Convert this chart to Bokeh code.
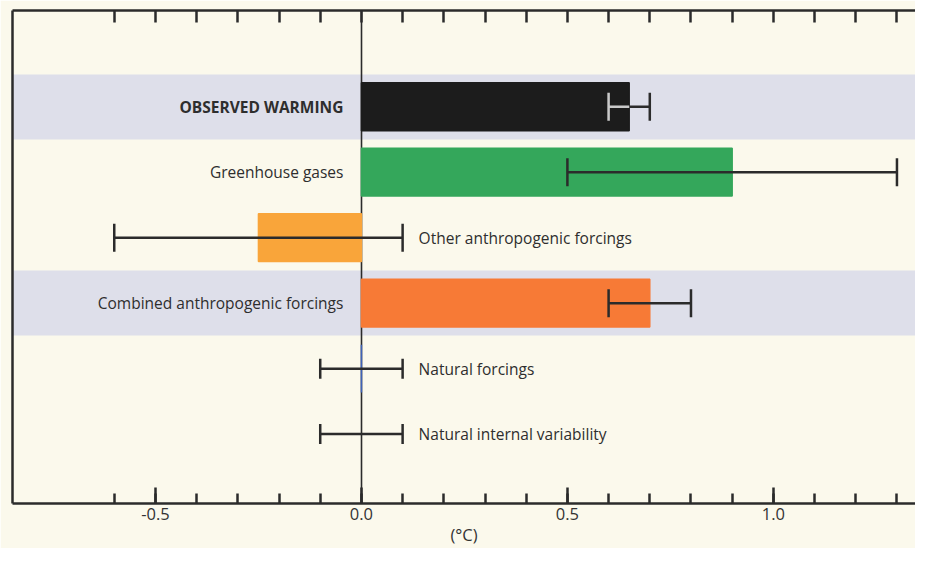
from bokeh.plotting import figure
from bokeh.models import (ColumnDataSource, Range1d, LinearAxis, FixedTicker,
                          Whisker, TeeHead)
from bokeh.core.properties import value
from bokeh.embed import file_html
from bokeh.resources import INLINE

# ---- data ----
categories = ["OBSERVED WARMING", "Greenhouse gases", "Other anthropogenic forcings",
              "Combined anthropogenic forcings", "Natural forcings",
              "Natural internal variability"]
values = [0.65, 0.9, -0.25, 0.7, 0.0, 0.0]
err_lo = [0.6, 0.5, -0.6, 0.6, -0.1, -0.1]
err_hi = [0.7, 1.3, 0.1, 0.8, 0.1, 0.1]
bar_colors = ["#1c1c1c", "#34a75b", "#f9a53a", "#f77a36", "#3f62b8", "rgba(0,0,0,0)"]
label_side = ["left", "left", "right", "left", "right", "right"]
shaded_rows = [0, 3]
major_ticks = [-0.5, 0.0, 0.5, 1.0]
tick_labels = ["-0.5", "0.0", "0.5", "1.0"]
minor_ticks = [-0.6, -0.5, -0.4, -0.3, -0.2, -0.1, 0.0, 0.1, 0.2, 0.3, 0.4, 0.5,
               0.6, 0.7, 0.8, 0.9, 1.0, 1.1, 1.2, 1.3]
x_label = "(°C)"

BG = "#fbf9ec"
BAND = "#dedfea"
INK = "#2b2b2b"
FONT = "Open Sans"

rows = list(range(len(categories)))

p = figure(width=915, height=548, output_backend="svg", toolbar_location=None,
           x_range=Range1d(-0.847, 1.345), y_range=Range1d(6.06, -1.47),
           x_axis_location=None, y_axis_location=None,
           min_border_left=12, min_border_right=0, min_border_top=10,
           min_border_bottom=41)
p.background_fill_color = BG
p.border_fill_color = BG
p.outline_line_color = None
p.xgrid.visible = False
p.ygrid.visible = False

# shaded bands
p.hstrip(y0=[r - 0.5 for r in shaded_rows], y1=[r + 0.5 for r in shaded_rows],
         fill_color=BAND, line_color=None)

# zero line
p.vspan(x=[0.0], line_color=INK, line_width=1.6)

# bars
bsrc = ColumnDataSource(dict(y=rows, v=values, c=bar_colors))
p.hbar(y="y", left=0, right="v", height=0.73, fill_color="c", line_color="c",
       line_width=1.5, source=bsrc)

# error bars
def add_whisker(idx, size, color=INK, lo=None, hi=None, upper=True):
    src = ColumnDataSource(dict(
        y=[rows[i] for i in idx],
        lo=[(lo if lo is not None else err_lo)[i] for i in idx],
        hi=[(hi if hi is not None else err_hi)[i] for i in idx]))
    w = Whisker(source=src, base="y", lower="lo", upper="hi", dimension="width",
                level="annotation",
                line_color=color, line_width=2.5,
                lower_head=TeeHead(size=size, line_color=color, line_width=2.5),
                upper_head=TeeHead(size=size, line_color=INK, line_width=2.5) if upper else None)
    p.add_layout(w)

add_whisker([0, 1, 2, 3], 28)
add_whisker([4, 5], 20)
add_whisker([0], 28, color="#c9c9c9", hi=values, upper=False)

# labels
for side in ("left", "right"):
    for bold in (True, False):
        idx = [i for i in rows if label_side[i] == side and (i == 0) == bold]
        if not idx:
            continue
        src = ColumnDataSource(dict(
            x=[0.0 if side == "left" else err_hi[i] for i in idx],
            y=[rows[i] for i in idx],
            t=[categories[i] for i in idx]))
        p.text(x="x", y="y", text="t", source=src,
               x_offset=-18 if side == "left" else 16,
               text_align="right" if side == "left" else "left",
               text_baseline="middle", text_color="#2e2e2e",
               text_font=value(FONT), text_font_size="15.5px",
               text_font_style="bold" if bold else "normal")

# axes
bottom = LinearAxis(ticker=FixedTicker(ticks=major_ticks, minor_ticks=minor_ticks),
                    major_tick_in=16, major_tick_out=0, minor_tick_in=10, minor_tick_out=0,
                    axis_line_color=INK, axis_line_width=2.5,
                    major_tick_line_color=INK, major_tick_line_width=2.5,
                    minor_tick_line_color=INK, minor_tick_line_width=2.5,
                    major_label_overrides={t: l for t, l in zip(major_ticks, tick_labels)},
                    major_label_text_font=FONT, major_label_text_font_size="16.5px",
                    major_label_text_color="#333333", major_label_standoff=4,
                    axis_label=x_label, axis_label_text_font=FONT,
                    axis_label_text_font_size="16.5px", axis_label_text_font_style="normal",
                    axis_label_text_color="#333333", axis_label_standoff=0)
p.add_layout(bottom, "below")

top = LinearAxis(ticker=FixedTicker(ticks=[], minor_ticks=minor_ticks),
                 minor_tick_in=12, minor_tick_out=0, major_tick_in=0, major_tick_out=0,
                 axis_line_color=INK, axis_line_width=2.5,
                 minor_tick_line_color=INK, minor_tick_line_width=2.5)
p.add_layout(top, "above")

yax = LinearAxis(ticker=FixedTicker(ticks=[]), axis_line_color=INK, axis_line_width=2.5,
                 major_tick_out=0, major_tick_in=0)
p.add_layout(yax, "left")

open("out.html", "w").write(file_html(p, INLINE))
